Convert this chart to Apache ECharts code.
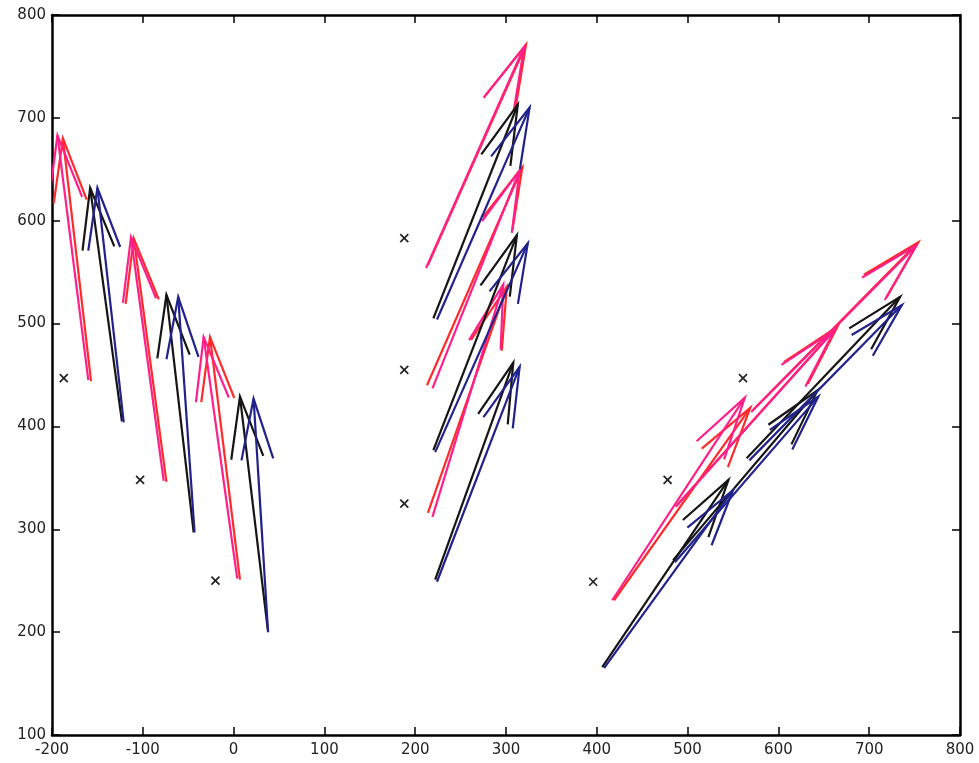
<!DOCTYPE html>
<html>
<head>
<meta charset="utf-8">
<script src="https://cdn.jsdelivr.net/npm/echarts@6/dist/echarts.min.js"></script>
<style>html,body{margin:0;padding:0;background:#fff}#c{width:979px;height:763px}</style>
</head>
<body>
<div id="c"></div>
<script>
// Axis ranges / ticks
const xRange = [-200, 800], xStep = 100;
const yRange = [100, 800], yStep = 100;

// "x" markers
const markers = [[-187,447],[-103,348],[-20,250],[188,583],[188,455],[188,325],[396,249],[478,348],[561,447]];

// arrows: [tailX, tailY, headX, headY]
const redArrows = [
  [-157,444,-188,680],[-74,346,-110,583],[7,251,-26,487],
  [214,557,322,771],[213,440,318,652],[214,316,301,536],
  [419,231,569,418],[489,324,665,497],[572,416,754,579]
];
const magentaArrows = [
  [-160,445,-194,683],[-77,347,-113,584],[4,252,-33,487],
  [212,554,320,769],[219,437,315,649],[219,312,297,538],
  [417,231,563,428],[487,322,662,494],[570,414,752,576]
];
const blackArrows = [
  [-123,405,-158,632],[-44,297,-74,528],[38,200,7,429],
  [220,505,313,713],[220,377,312,586],[222,251,308,462],
  [406,166,545,348],[484,270,643,435],[565,369,734,526]
];
const blueArrows = [
  [-121,404,-150,632],[-43,297,-61,526],[38,200,22,427],
  [224,504,326,710],[222,375,324,578],[224,249,315,458],
  [408,165,550,338],[486,268,644,429],[568,367,736,518]
];

function arrowRender(color) {
  return function (params, api) {
    const p0 = api.coord([api.value(0), api.value(1)]);
    const p1 = api.coord([api.value(2), api.value(3)]);
    const dx = p1[0] - p0[0], dy = p1[1] - p0[1];
    const L = Math.hypot(dx, dy);
    const ux = -dx / L, uy = -dy / L;
    const px = -uy, py = ux;
    const a = 0.26 * L, b = 0.068 * L;
    const b1 = [p1[0] + a * ux + b * px, p1[1] + a * uy + b * py];
    const b2 = [p1[0] + a * ux - b * px, p1[1] + a * uy - b * py];
    const st = {stroke: color, lineWidth: 2.2, fill: null, lineJoin: 'miter'};
    return {type: 'group', children: [
      {type: 'polyline', shape: {points: [p0, p1]}, style: st},
      {type: 'polyline', shape: {points: [b1, p1, b2]}, style: st}
    ]};
  };
}
function markerRender(params, api) {
  const p = api.coord([api.value(0), api.value(1)]);
  const s = 4;
  const st = {stroke: '#222', lineWidth: 1.7, fill: null};
  return {type: 'group', children: [
    {type: 'line', shape: {x1: p[0]-s, y1: p[1]-s, x2: p[0]+s, y2: p[1]+s}, style: st},
    {type: 'line', shape: {x1: p[0]-s, y1: p[1]+s, x2: p[0]+s, y2: p[1]-s}, style: st}
  ]};
}

function arrowSeries(data, color) {
  return {type: 'custom', renderItem: arrowRender(color), data: data,
    encode: {x: [0, 2], y: [1, 3]}, clip: true, silent: true, animation: false};
}

const font = 'DejaVu Sans';
const baseLine = {show: true, onZero: false, lineStyle: {color: '#000', width: 2.5}};
const baseTick = {show: true, inside: true, length: 8, lineStyle: {color: '#000', width: 1.5}};
const xlbl = {color: '#222', fontSize: 15, fontFamily: font, margin: 8};
const ylbl = {color: '#222', fontSize: 15, fontFamily: font, margin: 6};

const chart = echarts.init(document.getElementById('c'), null, {renderer: 'canvas'});
chart.setOption({
  animation: false,
  backgroundColor: '#fff',
  grid: {left: 52, right: 19, top: 15, bottom: 28, containLabel: false},
  xAxis: [
    {type: 'value', min: xRange[0], max: xRange[1], interval: xStep, position: 'bottom',
     axisLine: baseLine, axisTick: baseTick, axisLabel: xlbl, splitLine: {show: false}},
    {type: 'value', min: xRange[0], max: xRange[1], interval: xStep, position: 'top',
     axisLine: baseLine, axisTick: baseTick, axisLabel: {show: false}, splitLine: {show: false}}
  ],
  yAxis: [
    {type: 'value', min: yRange[0], max: yRange[1], interval: yStep, position: 'left',
     axisLine: baseLine, axisTick: baseTick, axisLabel: ylbl, splitLine: {show: false}},
    {type: 'value', min: yRange[0], max: yRange[1], interval: yStep, position: 'right',
     axisLine: baseLine, axisTick: baseTick, axisLabel: {show: false}, splitLine: {show: false}}
  ],
  series: [
    {type: 'custom', renderItem: markerRender, data: markers, encode: {x: 0, y: 1}, silent: true},
    arrowSeries(redArrows, '#ff2a2a'),
    arrowSeries(magentaArrows, '#ff1f8a'),
    arrowSeries(blackArrows, '#151515'),
    arrowSeries(blueArrows, '#22228c')
  ]
});
</script>
</body>
</html>
